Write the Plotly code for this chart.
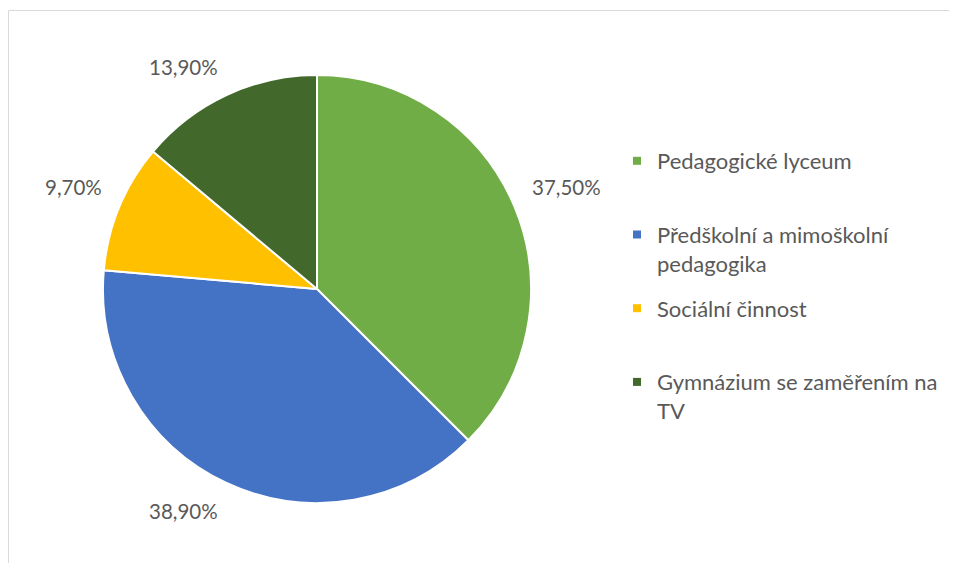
import math
import plotly.graph_objects as go

labels = ["Pedagogické lyceum", "Předškolní a mimoškolní<br>pedagogika", "Sociální činnost", "Gymnázium se zaměřením na<br>TV"]
values = [37.5, 38.9, 9.7, 13.9]
value_texts = ["37,50%", "38,90%", "9,70%", "13,90%"]
colors = ["#70AD47", "#4472C4", "#FFC000", "#43682B"]

W, H = 957, 563
cx, cy, r = 309, 281, 214
label_r = 1.075 * r
FONT = "Lato"
GREY = "#595959"

fig = go.Figure()
fig.add_trace(go.Pie(
    labels=labels, values=values, sort=False, direction="clockwise", rotation=0,
    marker=dict(colors=colors, line=dict(color="white", width=2)),
    textinfo="none", hoverinfo="label+percent", showlegend=False,
    domain=dict(x=[(cx - r) / W, (cx + r) / W], y=[1 - (cy + r) / H, 1 - (cy - r) / H]),
))

# legend entries (one per category), padded to equal height
for lab, col in zip(labels, colors):
    name = lab if "<br>" in lab else lab + "<br> "
    fig.add_trace(go.Scatter(x=[None], y=[None], mode="markers", name=name, legendgroup=lab,
                             marker=dict(symbol="square", size=8, color=col), showlegend=True))

# data labels placed outside the slice mid-angles
total = sum(values)
cum = 0
anns = []
for v, t in zip(values, value_texts):
    mid = (cum + v / 2) / total * 2 * math.pi
    cum += v
    ux, uy = math.sin(mid), -math.cos(mid)
    px = cx + label_r * ux
    py = cy + label_r * uy
    anns.append(dict(x=px / W, y=1 - py / H, xref="paper", yref="paper", text=t, showarrow=False,
                     xanchor="left" if ux > 0 else "right",
                     yanchor="top" if uy > 0 else "bottom",
                     font=dict(family=FONT, size=20.5, color=GREY)))

fig.update_layout(
    width=W, height=H, margin=dict(l=0, r=0, t=0, b=0),
    paper_bgcolor="white", plot_bgcolor="white",
    xaxis=dict(visible=False), yaxis=dict(visible=False),
    annotations=anns,
    legend=dict(x=609 / W, y=1 - 132 / H, xanchor="left", yanchor="top", tracegroupgap=13.5,
                font=dict(family=FONT, size=22, color=GREY), valign="top", bgcolor="rgba(0,0,0,0)"),
    shapes=[dict(type="rect", xref="paper", yref="paper", x0=0.5 / W, x1=1.2, y0=-0.2, y1=1 - 2.5 / H,
                 line=dict(color="#D9D9D9", width=1), fillcolor="rgba(0,0,0,0)")],
)
fig.write_html("out.html")
